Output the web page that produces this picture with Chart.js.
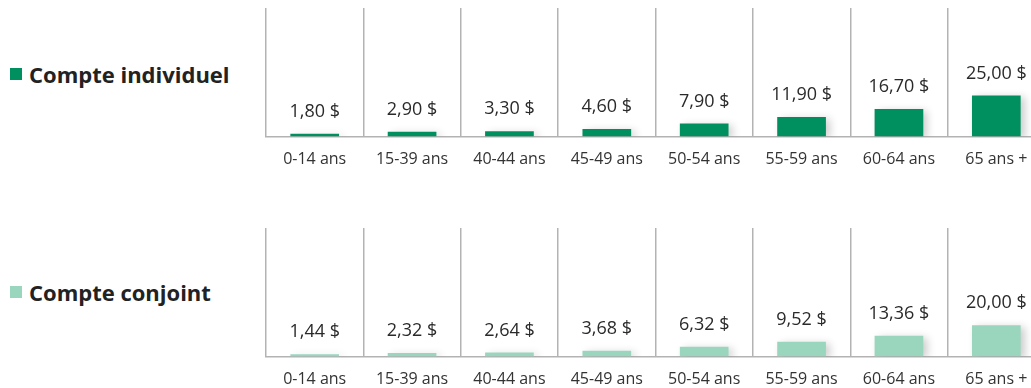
<!DOCTYPE html>
<html>
<head>
<meta charset="utf-8">
<script src="https://cdn.jsdelivr.net/npm/chart.js@4.4.1/dist/chart.umd.min.js"></script>
<style>
  html, body { margin: 0; padding: 0; background: #fff; }
  body { width: 1031px; height: 388px; overflow: hidden; position: relative; font-family: "Open Sans", sans-serif; }
  .legende { position: absolute; left: 10px; display: flex; align-items: center; font-weight: 700; font-size: 22px; color: #222; }
  .legende span.carre { display: inline-block; width: 12px; height: 12px; margin-right: 7px; }
  .boite { position: absolute; left: 256px; }
  canvas { display: block; }
</style>
</head>
<body>
<div class="legende" id="leg1" style="top:59px"><span class="carre" style="background:#008f5e"></span>Compte individuel</div>
<div class="legende" id="leg2" style="top:277px"><span class="carre" style="background:#9ad5be"></span>Compte conjoint</div>
<div class="boite" style="top:0"><canvas id="graph1" width="789" height="186"></canvas></div>
<div class="boite" style="top:220px"><canvas id="graph2" width="789" height="186"></canvas></div>

<script>
// Données
const categories = ['0-14 ans', '15-39 ans', '40-44 ans', '45-49 ans', '50-54 ans', '55-59 ans', '60-64 ans', '65 ans +'];
const individuel = [1.80, 2.90, 3.30, 4.60, 7.90, 11.90, 16.70, 25.00];
const conjoint = [1.44, 2.32, 2.64, 3.68, 6.32, 9.52, 13.36, 20.00];

const VERT_FONCE = '#008f5e';
const VERT_PALE = '#9ad5be';

function formatMontant(v) {
    return v.toFixed(2).replace('.', ',') + ' $';
}

// ombre portée sous les barres
const ombrePlugin = {
    id: 'ombre',
    beforeDatasetsDraw(chart) {
        const ctx = chart.ctx;
        ctx.save();
        ctx.shadowColor = 'rgba(0,0,0,0.2)';
        ctx.shadowBlur = 8;
        ctx.shadowOffsetX = 4;
        ctx.shadowOffsetY = 2;
    },
    afterDatasetsDraw(chart) {
        chart.ctx.restore();
    }
};

// étiquettes de valeur au-dessus des barres
const valeursPlugin = {
    id: 'valeurs',
    afterDatasetsDraw(chart) {
        const ctx = chart.ctx;
        const meta = chart.getDatasetMeta(0);
        const data = chart.data.datasets[0].data;
        ctx.save();
        ctx.font = '18px "Open Sans", sans-serif';
        ctx.fillStyle = '#2a2a2a';
        ctx.textAlign = 'center';
        ctx.textBaseline = 'middle';
        meta.data.forEach((bar, i) => {
            ctx.fillText(formatMontant(data[i]), bar.x, bar.y - 22);
        });
        ctx.restore();
    }
};

function creerGraph(id, valeurs, couleur, maxY) {
    const ctx = document.getElementById(id).getContext('2d');
    return new Chart(ctx, {
        type: 'bar',
        data: {
            labels: categories,
            datasets: [{
                data: valeurs,
                backgroundColor: couleur,
                categoryPercentage: 1,
                barPercentage: 0.5
            }]
        },
        options: {
            responsive: false,
            animation: false,
            layout: { padding: { top: 8, left: 10, right: 0, bottom: 3.4 } },
            plugins: { legend: { display: false }, tooltip: { enabled: false } },
            scales: {
                x: {
                    grid: { color: '#b3b3b3', lineWidth: 1.5, drawTicks: false },
                    border: { color: '#b3b3b3', width: 1.5 },
                    ticks: { color: '#333', padding: 13.4, font: { family: '"Open Sans", sans-serif', size: 16 } }
                },
                y: { display: false, min: 0, max: maxY }
            }
        },
        plugins: [ombrePlugin, valeursPlugin]
    });
}

creerGraph('graph1', individuel, VERT_FONCE, 78);
creerGraph('graph2', conjoint, VERT_PALE, 82);
</script>
</body>
</html>
